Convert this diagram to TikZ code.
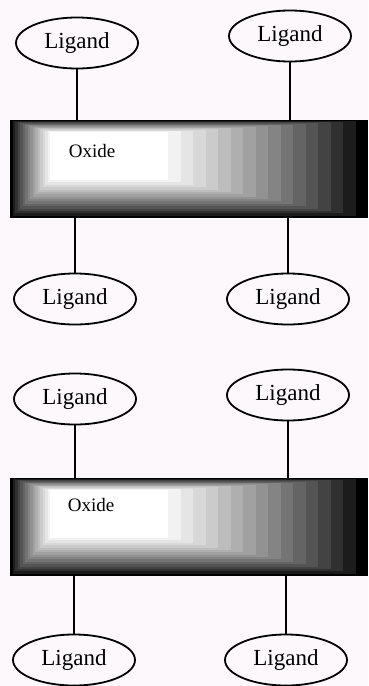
\documentclass[tikz,border=0pt]{standalone}
\usepackage{fontspec}
\setmainfont{Liberation Serif}
\usetikzlibrary{shapes.geometric, positioning}
\definecolor{paper}{RGB}{252,248,252}
\tikzset{
    ligand/.style={ellipse, draw, line width=1.8pt, minimum width=122pt,
        minimum height=51pt, inner sep=0pt,
        font=\fontsize{23}{23}\selectfont},     % the oval ligand heads
    bond/.style={line width=1.8pt},             % stalk from ligand to oxide
    oxidetext/.style={inner sep=0pt, font=\fontsize{19}{19}\selectfont},
}

\begin{document}
\begin{tikzpicture}[x=1pt, y=-1pt]

\fill[paper] (0,0) rectangle (368,686);
\useasboundingbox (0,0) rectangle (368,686);

% graded oxide slabs, nested rectangles from black to white
\foreach \ytop/\slab in {120/ox1, 478/ox2} {
  \foreach \i in {0,...,16} {
    \pgfmathsetmacro\tone{100*(\i/16)^0.8}
    \fill[white!\tone!black] ({10+40*\i/16},{\ytop+12*\i/16})
        rectangle ({368-200*\i/16},{\ytop+98-38*\i/16});
  }
  \node[minimum width=358pt, minimum height=98pt, inner sep=0pt] (\slab) at (189,\ytop+49) {};
}

\node[oxidetext] (t1) at (92,151) {Oxide};
\node[oxidetext] (t2) at (91,505) {Oxide};

\node[ligand] (l1) at (77,43) {Ligand};
\node[ligand] (l2) at (290,36) {Ligand};
\node[ligand] (l3) at (75,299) {Ligand};
\node[ligand] (l4) at (288,299) {Ligand};
\node[ligand] (l5) at (75,399) {Ligand};
\node[ligand] (l6) at (288,395) {Ligand};
\node[ligand] (l7) at (74,660) {Ligand};
\node[ligand] (l8) at (286,660) {Ligand};

\draw[bond]
(l1) -- (l1 |- ox1.north)
(l2) -- (l2 |- ox1.north)
(ox1.south -| l3) -- (l3)
(ox1.south -| l4) -- (l4)
(l5) -- (l5 |- ox2.north)
(l6) -- (l6 |- ox2.north)
(ox2.south -| l7) -- (l7)
(ox2.south -| l8) -- (l8);

\end{tikzpicture}
\end{document}
